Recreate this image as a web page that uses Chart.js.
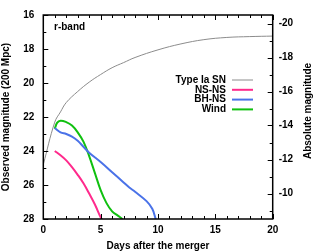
<!DOCTYPE html>
<html>
<head>
<meta charset="utf-8">
<script src="https://cdn.jsdelivr.net/npm/chart.js@4.4.1/dist/chart.umd.min.js"></script>
<style>
  html, body { margin: 0; padding: 0; background: #fff; }
  #wrap { width: 330px; height: 252px; }
</style>
</head>
<body>
<div id="wrap"><canvas id="c" width="330" height="252"></canvas></div>
<script>
// r-band light curves
const iaDays = [0, 1, 1.5, 2, 3, 4, 5, 6, 7, 8, 10, 12, 14, 16, 18, 20];
const iaMag  = [24.8, 22.3, 21.7, 21.15, 20.5, 19.95, 19.5, 19.1, 18.8, 18.5, 18.05, 17.7, 17.45, 17.32, 17.27, 17.24];

const nsnsDays = [1, 1.5, 2, 2.5, 3, 3.5, 4, 4.5, 5, 5.2];
const nsnsMag  = [24.0, 24.25, 24.55, 24.95, 25.4, 25.9, 26.5, 27.15, 27.9, 28.1];

const bhnsDays = [1, 1.5, 2, 2.5, 3, 3.5, 4, 5, 6, 7, 7.5, 8, 9, 9.5, 9.8];
const bhnsMag  = [22.65, 22.9, 23.0, 23.15, 23.4, 23.75, 24.1, 24.65, 25.25, 25.85, 26.15, 26.4, 26.95, 27.4, 28.0];

const windDays = [1, 1.2, 1.5, 2, 2.5, 3, 3.5, 4, 4.5, 5, 5.5, 6, 6.5, 6.9];
const windMag  = [22.7, 22.35, 22.22, 22.3, 22.5, 22.9, 23.45, 24.3, 25.3, 26.3, 27.05, 27.55, 27.8, 28.0];

const xTicks = [0, 5, 10, 15, 20];
const yTicks = [16, 18, 20, 22, 24, 26, 28];
const absTicks = [-20, -18, -16, -14, -12, -10];
const distMod = 36.5; // 200 Mpc

const pts = (xs, ys) => xs.map((x, i) => ({x: x, y: ys[i]}));

const font = {family: "'Liberation Sans', Arial, sans-serif", size: 10, weight: "bold"};

// inward ticks, frame, legend, band label and right-hand title
const decor = {
  id: "decor",
  afterDraw(chart) {
    const ctx = chart.ctx;
    const a = chart.chartArea;
    const xs = chart.scales.x, ys = chart.scales.y, ys2 = chart.scales.y2;
    ctx.save();
    ctx.strokeStyle = "#000";
    ctx.lineWidth = 1;
    ctx.beginPath();
    for (let d = 0; d <= 20; d++) {
      const px = Math.round(xs.getPixelForValue(d)) + 0.5;
      const len = d % 5 === 0 ? 5 : 3;
      ctx.moveTo(px, a.bottom); ctx.lineTo(px, a.bottom - len);
      ctx.moveTo(px, a.top); ctx.lineTo(px, a.top + len);
    }
    for (let m = 16; m <= 28; m++) {
      const py = Math.round(ys.getPixelForValue(m)) + 0.5;
      const len = m % 2 === 0 ? 5 : 3;
      ctx.moveTo(a.left, py); ctx.lineTo(a.left + len, py);
    }
    for (let m = -20; m <= -9; m++) {
      const py = Math.round(ys2.getPixelForValue(m)) + 0.5;
      const len = m % 2 === 0 ? 5 : 3;
      ctx.moveTo(a.right, py); ctx.lineTo(a.right - len, py);
    }
    ctx.stroke();
    ctx.lineWidth = 1.5;
    ctx.strokeRect(a.left, a.top, a.right - a.left, a.bottom - a.top);

    ctx.font = "bold 10px 'Liberation Sans', Arial, sans-serif";
    ctx.fillStyle = "#000";
    ctx.textBaseline = "middle";
    ctx.textAlign = "left";
    ctx.fillText("r-band", 54, 27);

    ctx.textAlign = "right";
    chart.data.datasets.forEach((ds, i) => {
      const y = 80 + i * 9.8;
      ctx.fillStyle = "#000";
      ctx.fillText(ds.label, 226, y);
      ctx.strokeStyle = ds.borderColor;
      ctx.lineWidth = i === 0 ? 1 : 2;
      ctx.beginPath();
      ctx.moveTo(232, y); ctx.lineTo(253, y);
      ctx.stroke();
    });

    // right title reads bottom-to-top like the left one
    ctx.fillStyle = "#000";
    ctx.textAlign = "center";
    ctx.translate(308, 111);
    ctx.rotate(-Math.PI / 2);
    ctx.fillText("Absolute magnitude", 0, 0);
    ctx.restore();
  }
};

new Chart(document.getElementById("c"), {
  type: "line",
  data: {
    datasets: [
      {label: "Type Ia SN", data: pts(iaDays, iaMag), borderColor: "#8c8c8c", borderWidth: 1, tension: 0.4},
      {label: "NS-NS", data: pts(nsnsDays, nsnsMag), borderColor: "#ff2a8c", borderWidth: 2, tension: 0.4},
      {label: "BH-NS", data: pts(bhnsDays, bhnsMag), borderColor: "#4a72e8", borderWidth: 2, tension: 0.4},
      {label: "Wind", data: pts(windDays, windMag), borderColor: "#10c010", borderWidth: 2, tension: 0.4}
    ]
  },
  options: {
    responsive: false,
    animation: false,
    clip: true,
    elements: {point: {radius: 0}},
    layout: {padding: {top: 9.5, left: 0, right: 0, bottom: 0}},
    plugins: {legend: {display: false}, tooltip: {enabled: false}},
    scales: {
      x: {
        type: "linear", min: 0, max: 20,
        afterBuildTicks: s => { s.ticks = xTicks.map(v => ({value: v})); },
        afterFit: s => { s.height = 33; },
        grid: {display: false, drawTicks: false},
        border: {display: false},
        ticks: {font: font, color: "#000", padding: 5, maxRotation: 0},
        title: {display: true, text: "Days after the merger", font: font, color: "#000", padding: {top: 3, bottom: 0}}
      },
      y: {
        type: "linear", min: 16, max: 28, reverse: true,
        afterBuildTicks: s => { s.ticks = yTicks.map(v => ({value: v})); },
        afterFit: s => { s.width = 43.3; },
        grid: {display: false, drawTicks: false},
        border: {display: false},
        ticks: {font: font, color: "#000", padding: 9},
        title: {display: true, text: "Observed magnitude (200 Mpc)", font: font, color: "#000", padding: {top: 0, bottom: 1}}
      },
      y2: {
        type: "linear", position: "right",
        min: 16 - distMod, max: 28 - distMod, reverse: true,
        afterBuildTicks: s => { s.ticks = absTicks.map(v => ({value: v})); },
        afterFit: s => { s.width = 57.3; },
        grid: {display: false, drawTicks: false},
        border: {display: false},
        ticks: {font: font, color: "#000", padding: 6},
        title: {display: false}
      }
    }
  },
  plugins: [decor]
});
</script>
</body>
</html>
